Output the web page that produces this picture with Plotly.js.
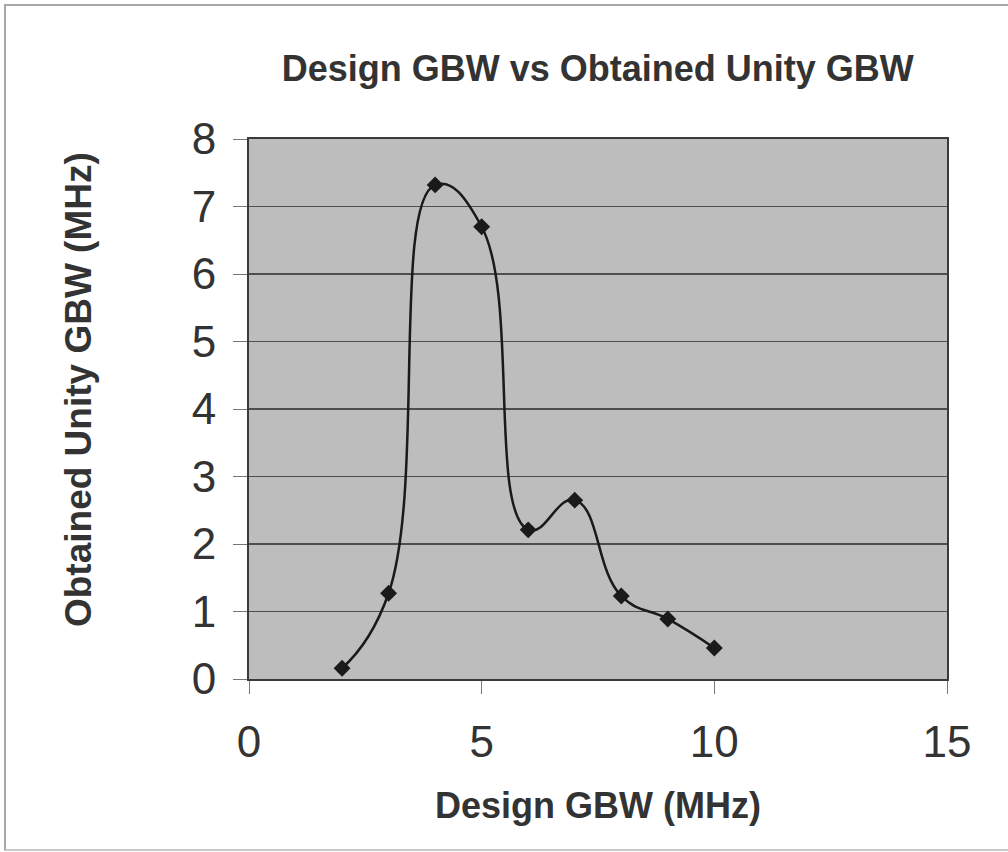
<!DOCTYPE html>
<html>
<head>
<meta charset="utf-8">
<script src="https://cdn.plot.ly/plotly-3.0.1.min.js"></script>
<style>
  html, body { margin: 0; padding: 0; background: #ffffff; }
  #wrap { position: relative; width: 1008px; height: 852px; }
  #chart { width: 1008px; height: 852px; }
  #frame {
    position: absolute; left: 4px; top: 4px; width: 1010px; height: 843px;
    border-left: 2px solid #a8a8a8; border-top: 2px solid #a8a8a8; border-bottom: 2px solid #c8c8c8;
    pointer-events: none;
  }
</style>
</head>
<body>
<div id="wrap">
  <div id="chart"></div>
  <div id="frame"></div>
</div>
<script>
// Design gain-bandwidth (MHz) against the measured unity-gain bandwidth (MHz)
const designGBW = [2, 3, 4, 5, 6, 7, 8, 9, 10];
const obtainedGBW = [0.16, 1.27, 7.32, 6.70, 2.21, 2.65, 1.23, 0.89, 0.46];

const xTicks = [0, 5, 10, 15];
const yTicks = [0, 1, 2, 3, 4, 5, 6, 7, 8];

const chartTitle = 'Design GBW vs Obtained Unity GBW';
const xTitle = 'Design GBW (MHz)';
const yTitle = 'Obtained Unity GBW (MHz)';

const font = 'Liberation Sans, Arial, sans-serif';
const ink = '#333333';

const trace = {
  x: designGBW,
  y: obtainedGBW,
  type: 'scatter',
  mode: 'lines+markers',
  line: { color: '#1a1a1a', width: 2.5, shape: 'spline', smoothing: 1.3 },
  marker: { symbol: 'diamond', size: 13, color: '#1a1a1a' },
  hoverinfo: 'x+y'
};

const layout = {
  width: 1008,
  height: 852,
  margin: { l: 249, r: 61, t: 139, b: 173 },
  paper_bgcolor: '#ffffff',
  plot_bgcolor: '#bdbdbd',
  showlegend: false,
  title: {
    text: '<b>' + chartTitle + '</b>',
    font: { family: font, size: 36, color: ink },
    x: 0.593, xanchor: 'center',
    y: 0.92, yanchor: 'middle'
  },
  xaxis: {
    range: [0, 15],
    tickvals: xTicks,
    ticktext: xTicks.map(String),
    ticks: 'outside', ticklen: 13, tickwidth: 1, tickcolor: '#777777',
    ticklabelstandoff: 10,
    tickfont: { family: font, size: 44, color: ink },
    showgrid: false,
    zeroline: false,
    showline: true, linecolor: '#3a3a3a', linewidth: 2, mirror: true,
    title: {
      text: '<b>' + xTitle + '</b>',
      font: { family: font, size: 36, color: ink },
      standoff: 28
    }
  },
  yaxis: {
    range: [0, 8],
    tickvals: yTicks,
    ticktext: yTicks.map(String),
    ticks: 'outside', ticklen: 14, tickwidth: 1, tickcolor: '#777777',
    ticklabelstandoff: 8,
    tickfont: { family: font, size: 44, color: ink },
    showgrid: true, gridcolor: '#4e4e4e', gridwidth: 1.3,
    zeroline: false,
    showline: true, linecolor: '#3a3a3a', linewidth: 2, mirror: true
  },
  // vertical axis title, set slightly above the plot's middle
  annotations: [{
    text: '<b>' + yTitle + '</b>',
    font: { family: font, size: 37, color: ink },
    textangle: -90,
    xref: 'paper', yref: 'paper',
    x: -0.245, y: 0.537,
    xanchor: 'center', yanchor: 'middle',
    showarrow: false
  }]
};

Plotly.newPlot('chart', [trace], layout, { displayModeBar: false, staticPlot: true });
</script>
</body>
</html>
